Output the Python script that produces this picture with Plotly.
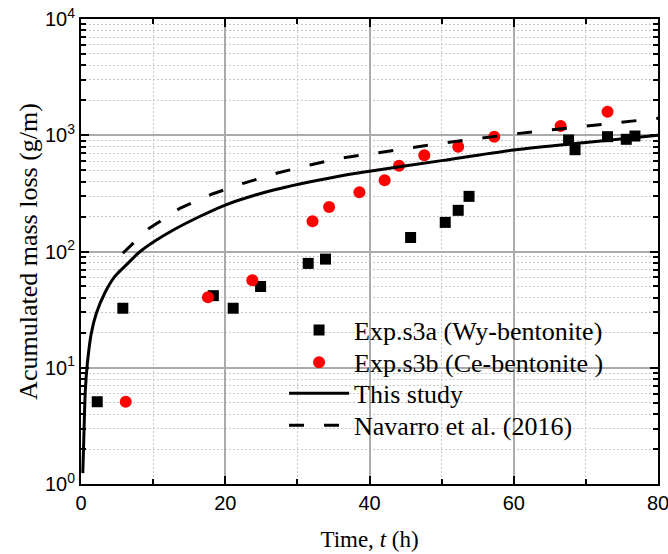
import plotly.graph_objects as go

# ---- data ----
t_wy = [2.25, 5.8, 18.35, 21.1, 24.9, 31.5, 33.9, 45.7, 50.5, 52.3, 53.8, 67.6, 68.5, 73.0, 75.6, 76.8]
m_wy = [5.1, 32.5, 41.7, 32.5, 50, 79, 86, 132, 178, 226, 298, 910, 751, 972, 923, 985]

t_ce = [6.2, 17.6, 23.75, 32.1, 34.4, 38.6, 42.1, 44.1, 47.6, 52.3, 57.3, 66.5, 73.0]
m_ce = [5.1, 40.4, 56.5, 182, 241, 323, 410, 547, 672, 797, 972, 1202, 1595]

t_model = [0.25, 0.42, 0.6, 0.88, 1.43, 2.13, 3.28, 4.67, 6.5, 8.2, 12.8, 20, 26.7, 35.4, 40, 50, 60, 70, 80]
m_model = [1.24, 2.9, 6.4, 10.9, 19.8, 29.4, 43.7, 60.7, 79, 100, 153, 251, 338, 440, 490, 605, 747, 868, 1000]

t_nav = [5.8, 9.1, 13.7, 18.1, 22.5, 27.1, 31.75, 35.9, 40, 50, 60, 70, 80]
m_nav = [96.5, 153, 235, 311, 386, 471, 555, 634, 690, 853, 1025, 1202, 1400]

names = ["Exp.s3a (Wy-bentonite)", "Exp.s3b (Ce-bentonite )", "This study", "Navarro et al. (2016)"]

y_tickvals = [1, 10, 100, 1000, 10000]
y_ticktext = ["10<sup>0</sup>", "10<sup>1</sup>", "10<sup>2</sup>", "10<sup>3</sup>", "10<sup>4</sup>"]
x_tickvals = [0, 20, 40, 60, 80]
x_ticktext = ["0", "20", "40", "60", "80"]

SERIF = "Liberation Serif"
SANS = "Liberation Sans"

fig = go.Figure()
fig.add_trace(go.Scatter(x=t_wy, y=m_wy, mode="markers", name=names[0], legend="legend",
                         marker=dict(symbol="square", size=11, color="black")))
fig.add_trace(go.Scatter(x=t_ce, y=m_ce, mode="markers", name=names[1], legend="legend2",
                         marker=dict(symbol="circle", size=12, color="#ff0000")))
fig.add_trace(go.Scatter(x=t_model, y=m_model, mode="lines", name=names[2], legend="legend3",
                         line=dict(color="black", width=3, shape="spline", smoothing=0.8)))
fig.add_trace(go.Scatter(x=t_nav, y=m_nav, mode="lines", name=names[3], legend="legend4",
                         line=dict(color="black", width=3, dash="15px,20px")))

axis_common = dict(
    showline=True, linecolor="black", linewidth=2, mirror="ticks",
    ticks="inside", ticklen=8, tickwidth=2, tickcolor="black",
    showgrid=True, gridcolor="#ababab", gridwidth=1.5,
    zeroline=False, automargin=False, ticklabeloverflow="allow",
    tickfont=dict(family=SANS, size=20, color="black"),
)

fig.update_xaxes(
    range=[0, 80], tickmode="array", tickvals=x_tickvals, ticktext=x_ticktext,
    minor=dict(dtick=10, ticks="inside", ticklen=5, tickwidth=1.5, tickcolor="black",
               showgrid=True, gridcolor="#c6c6c6", gridwidth=1, griddash="2px,2px"),
    title=dict(text="Time, <i>t</i> (h)", font=dict(family=SERIF, size=23, color="black"), standoff=18),
    **axis_common)

fig.update_yaxes(
    type="log", range=[0, 4], tickmode="array", tickvals=y_tickvals, ticktext=y_ticktext,
    minor=dict(dtick="D1", ticks="inside", ticklen=5, tickwidth=1.5, tickcolor="black",
               showgrid=True, gridcolor="#c6c6c6", gridwidth=1, griddash="2px,2px"),
    title=dict(text="Acumulated mass loss (g/m)", font=dict(family=SERIF, size=26, color="black"), standoff=0),
    **axis_common)

leg_font = dict(family=SERIF, size=26, color="black")
leg_x = 0.3519
row_y = [0.3312, 0.2616, 0.1950, 0.1262]
leg_base = dict(x=leg_x, xanchor="left", yanchor="middle", bgcolor="rgba(0,0,0,0)",
                borderwidth=0, font=leg_font, itemwidth=60)

fig.update_layout(
    width=668, height=554,
    margin=dict(l=81, r=10, t=19, b=70),
    paper_bgcolor="white", plot_bgcolor="white",
    showlegend=True,
    legend=dict(y=row_y[0], **leg_base),
    legend2=dict(y=row_y[1], **leg_base),
    legend3=dict(y=row_y[2], **leg_base),
    legend4=dict(y=row_y[3], **leg_base),
    shapes=[dict(type="rect", xref="paper", yref="paper",
                 x0=0.350, x1=0.9116, y0=0.0839, y1=0.3613,
                 fillcolor="white", line=dict(width=0), layer="between")],
)

fig.write_html("out.html")
